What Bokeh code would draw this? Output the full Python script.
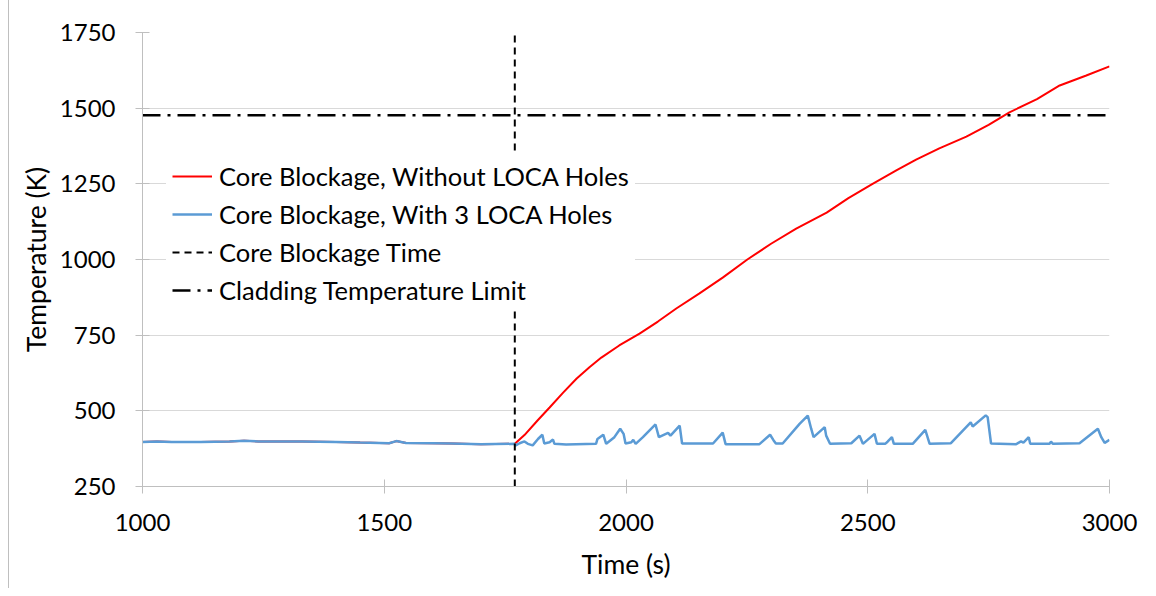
from bokeh.plotting import figure
from bokeh.models import FixedTicker, Legend
from bokeh.embed import file_html
from bokeh.resources import INLINE

# ---- data ----
pre_time = [1000, 1030, 1060, 1120, 1180, 1210, 1240, 1330, 1400, 1450, 1510, 1525,
            1545, 1600, 1640, 1700, 1770]
pre_temp = [397, 399, 397, 397, 399, 401, 399, 399, 397, 395, 393, 400,
            394, 393, 392, 390, 391]

red_post_time = [1790, 1817, 1842, 1870, 1898, 1925, 1949, 1986, 2028, 2066, 2104,
                 2152, 2200, 2251, 2300, 2352, 2415, 2460, 2510, 2560, 2600, 2648,
                 2704, 2750, 2793, 2850, 2897, 2952, 3000]
red_post_temp = [420, 468, 511, 560, 607, 645, 676, 716, 755, 795, 838,
                 888, 940, 1000, 1052, 1102, 1155, 1203, 1250, 1295, 1330, 1367,
                 1406, 1445, 1486, 1530, 1575, 1608, 1638]

blue_post_time = [1771, 1780, 1790, 1797, 1807, 1818, 1827, 1831, 1842, 1849, 1852,
                  1876, 1938, 1941, 1953, 1959, 1976, 1988, 1995, 1999, 2011, 2015,
                  2020, 2035, 2061, 2068, 2087, 2092, 2111, 2116, 2180, 2200, 2206,
                  2276, 2298, 2305, 2310, 2324, 2359, 2376, 2383, 2388, 2411, 2414,
                  2422, 2466, 2483, 2490, 2514, 2519, 2536, 2541, 2550, 2554, 2593,
                  2619, 2628, 2672, 2713, 2717, 2744, 2748, 2755, 2807, 2817, 2822,
                  2833, 2836, 2876, 2879, 2883, 2938, 2976, 2983, 2990, 3000]
blue_post_temp = [385, 393, 399, 391, 386, 407, 421, 392, 396, 405, 391,
                  389, 391, 407, 421, 391, 413, 441, 424, 392, 396, 404,
                  391, 413, 455, 413, 427, 418, 451, 392, 392, 428, 390,
                  390, 421, 403, 392, 392, 457, 484, 441, 413, 446, 418,
                  391, 393, 418, 391, 424, 391, 391, 398, 413, 391, 391,
                  437, 391, 393, 462, 448, 485, 479, 392, 390, 399, 395,
                  413, 391, 391, 398, 391, 393, 441, 413, 394, 404]

blockage_time = 1770
temp_limit = 1477
x_ticks = [1000, 1500, 2000, 2500, 3000]
y_ticks = [250, 500, 750, 1000, 1250, 1500, 1750]

red_time = pre_time + red_post_time
red_temp = pre_temp + red_post_temp
blue_time = pre_time + blue_post_time
blue_temp = pre_temp + blue_post_temp

FONT = "Lato"

p = figure(width=1146, height=588, x_range=(1000, 3000), y_range=(250, 1750),
           output_backend="svg", toolbar_location=None,
           min_border_left=133, min_border_right=46, min_border_top=32, min_border_bottom=102)
p.outline_line_color = None
p.background_fill_color = "white"
p.border_fill_color = "white"

r_red = p.line(red_time, red_temp, line_color="#ff0000", line_width=2)
r_blue = p.line(blue_time, blue_temp, line_color="#5b9bd5", line_width=2.5)
r_dash = p.line([blockage_time, blockage_time], [250, 1750], line_color="black",
                line_width=2, line_dash="7 5")
r_dd = p.line([1000, 3000], [temp_limit, temp_limit], line_color="black",
              line_width=2.5, line_dash="18 7 3 7")

for ax in (p.xaxis[0], p.yaxis[0]):
    ax.axis_line_color = "#bfbfbf"
    ax.major_tick_line_color = "#bfbfbf"
    ax.major_tick_in = 7
    ax.major_tick_out = 7
    ax.minor_tick_line_color = None
    ax.major_label_text_font = FONT
    ax.major_label_text_font_size = "24px"
    ax.major_label_text_color = "black"
    ax.axis_label_text_font = FONT
    ax.axis_label_text_font_size = "26.5px"
    ax.axis_label_text_font_style = "normal"
    ax.axis_label_text_color = "black"

p.xaxis.ticker = FixedTicker(ticks=x_ticks)
p.yaxis.ticker = FixedTicker(ticks=y_ticks)
p.xaxis.axis_label = "Time (s)"
p.yaxis.axis_label = "Temperature (K)"
p.xaxis.major_label_standoff = 20
p.xaxis.axis_label_standoff = 14
p.yaxis.major_label_standoff = 20
p.yaxis.axis_label_standoff = 5

p.xgrid.grid_line_color = None
p.ygrid.grid_line_color = "#d9d9d9"
p.ygrid.grid_line_width = 1

legend = Legend(items=[
    ("Core Blockage, Without LOCA Holes", [r_red]),
    ("Core Blockage, With 3 LOCA Holes", [r_blue]),
    ("Core Blockage Time", [r_dash]),
    ("Cladding Temperature Limit", [r_dd]),
], location=(24, 175))
legend.label_text_font = FONT
legend.label_text_font_size = "25.5px"
legend.label_text_color = "black"
legend.glyph_width = 40
legend.glyph_height = 30
legend.label_height = 30
legend.label_standoff = 7
legend.spacing = 8
legend.padding = 6
legend.margin = 0
legend.border_line_alpha = 0
legend.background_fill_color = "white"
legend.background_fill_alpha = 1
p.add_layout(legend, "center")

p.styles = {"border-left": "1px solid #bfbfbf", "margin-left": "8px"}

open("out.html", "w").write(file_html(p, INLINE))
